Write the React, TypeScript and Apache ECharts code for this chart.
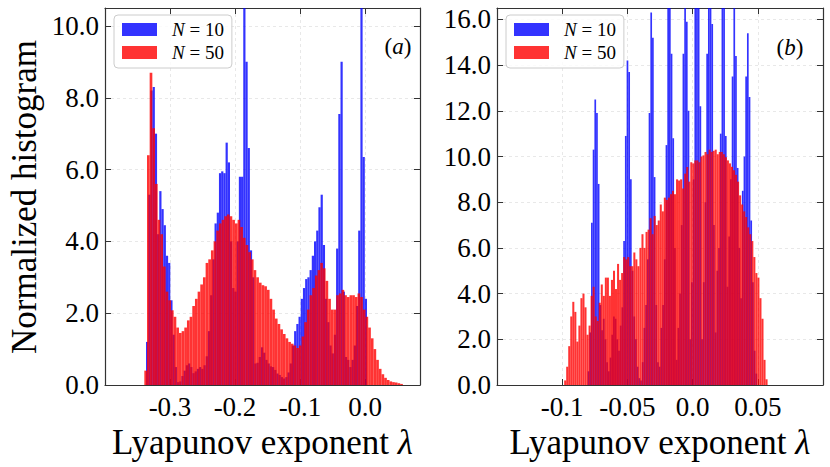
import React, { useEffect, useRef } from "react";
import * as echarts from "echarts";

const FONT = "Liberation Serif";
const BLUE = "rgba(0,0,255,0.8)";
const RED = "rgba(255,0,0,0.8)";
const TEXT = "#000000";

// ---- panel (a) ----
const xTickLabelsA = ["-0.3", "-0.2", "-0.1", "0.0"];
const yTickLabelsA = ["0.0", "2.0", "4.0", "6.0", "8.0", "10.0"];
const binStartA10 = -0.3369;
const binWidthA10 = 0.0034;
const histA10 = [
  1.2, 5.3, 8.2, 8.3, 7.0, 4.2, 5.4, 4.9, 4.45, 3.6,
  3.4, 2.36, 1.4, 0.5, 0.08, 0.1, 0.25, 0.4, 0.55, 0.6,
  0.5, 0.33, 0.38, 0.45, 0.5, 0.45, 0.55, 0.8, 1.5, 2.5,
  3.5, 4.5, 4.8, 5.9, 5.95, 5.9, 6.75, 6.2, 4.0, 2.7,
  2.6, 4.0, 5.8, 5.8, 12.5, 9.0, 6.6, 3.75, 3.0, 0.6,
  0.62, 0.78, 1.05, 0.9, 0.7, 0.6, 0.52, 0.5, 0.42, 0.32,
  0.28, 0.22, 0.18, 0.22, 0.35, 0.6, 1.1, 1.5, 1.7, 1.9,
  2.4, 2.7, 2.95, 3.0, 3.2, 3.6, 4.0, 4.3, 4.95, 5.3,
  3.9, 2.4, 1.75, 1.1, 0.88, 1.4, 3.8, 7.55, 9.0, 2.6,
  0.78, 0.7, 0.5, 0.7, 1.1, 2.2, 4.3, 13.0, 6.35, 2.4,
];
const binStartA50 = -0.3395;
const binWidthA50 = 0.0041;
const histA50 = [
  0.4, 6.4, 8.7, 7.15, 5.6, 4.6, 4.2, 3.3, 2.6, 2.36,
  2.08, 1.9, 1.6, 1.45, 1.5, 1.6, 1.8, 1.9, 2.2, 2.4,
  2.6, 2.8, 3.0, 3.4, 3.5, 3.75, 4.0, 4.3, 4.5, 4.6,
  4.7, 4.75, 4.7, 4.6, 4.5, 4.6, 4.4, 4.1, 3.9, 3.7,
  3.5, 3.2, 3.0, 2.85, 2.78, 2.75, 2.65, 2.4, 2.1, 1.85,
  1.7, 1.55, 1.42, 1.3, 1.2, 1.15, 1.1, 1.03, 1.1, 1.35,
  1.75, 2.1, 2.5, 2.7, 3.05, 3.2, 3.4, 3.25, 2.9, 2.4,
  2.1, 2.1, 2.5, 2.55, 2.65, 2.5, 2.45, 2.5, 2.5, 2.45,
  2.55, 2.45, 2.1, 1.9, 1.6, 1.3, 1.0, 0.7, 0.45, 0.3,
  0.2, 0.14, 0.1, 0.08, 0.07, 0.05, 0.03,
];

// ---- panel (b) ----
const xTickLabelsB = ["-0.1", "-0.05", "0.0", "0.05"];
const yTickLabelsB = ["0.0", "2.0", "4.0", "6.0", "8.0", "10.0", "12.0", "14.0", "16.0"];
const binStartB10 = -0.0805;
const binWidthB10 = 0.0013;
const histB10 = [
  0.6, 2.3, 7.1, 10.3, 12.5, 11.9, 8.8, 3.5, 2.4, 2.9,
  2.0, 1.0, 0.6, 1.2, 2.2, 3.0, 2.9, 2.0, 1.5, 2.6,
  3.4, 6.3, 10.9, 14.2, 13.7, 9.0, 5.0, 3.0, 2.0, 0.8,
  0.3, 0.2, 1.0, 2.5, 3.5, 5.5, 11.9, 16.3, 15.2, 9.1,
  3.5, 1.0, 0.8, 2.5, 3.5, 5.5, 10.5, 18.0, 19.5, 14.5,
  10.8, 6.0, 1.1, 2.5, 4.0, 7.0, 14.5, 19.0, 15.9, 12.0,
  2.0, 4.5, 9.0, 17.5, 20.0, 16.8, 12.2, 2.0, 4.5, 8.0,
  14.5, 19.0, 18.0, 15.8, 7.0, 2.3, 5.0, 6.0, 11.0, 19.5,
  17.0, 10.9, 4.3, 6.5, 9.0, 13.5, 19.0, 14.4, 9.5, 6.0,
  3.8, 8.5, 10.0, 13.5, 15.4, 12.6, 7.2, 4.5, 1.5, 0.5,
];
const binStartB50 = -0.0985;
const binWidthB50 = 0.00156;
const histB50 = [
  0.2, 0.8, 1.7, 3.0, 3.64, 3.2, 1.9, 2.6, 3.8, 4.0,
  3.4, 2.2, 2.6, 3.9, 4.3, 3.0, 2.8, 3.6, 4.4, 3.9,
  4.7, 4.7, 3.9, 4.6, 5.0, 4.2, 5.3, 4.6, 4.9, 5.6,
  5.5, 5.6, 5.2, 5.2, 5.8, 5.5, 5.2, 6.0, 6.6, 6.0,
  6.7, 6.8, 7.3, 6.6, 7.4, 7.0, 7.2, 7.9, 7.6, 8.2,
  8.1, 8.2, 8.35, 8.5, 8.35, 9.0, 8.95, 9.0, 8.6, 9.25,
  9.54, 8.9, 9.75, 9.7, 9.83, 9.83, 9.75, 10.0, 10.05, 10.2,
  10.1, 10.3, 10.2, 10.25, 10.3, 10.1, 10.2, 10.2, 10.1, 9.97,
  9.83, 9.7, 9.55, 9.4, 9.2, 8.9, 8.3, 7.9, 7.6, 7.35,
  6.9, 6.6, 6.3, 5.6, 4.9, 4.7, 3.8, 2.9, 1.1, 0.25,
];

const legendNames = ["N = 10", "N = 50"];

const rt = (size: number, italic = false) => ({
  fontFamily: FONT,
  fontSize: size,
  fontStyle: italic ? "italic" : "normal",
  color: TEXT,
  fill: TEXT,
});

function makeHist(name: string, start: number, width: number, values: number[], color: string, axis: number) {
  return {
    type: "custom",
    name,
    xAxisIndex: axis,
    yAxisIndex: axis,
    clip: true,
    data: values.map((v, i) => [start + i * width, start + (i + 1) * width, v]),
    encode: { x: [0, 1], y: 2 },
    renderItem: (params: any, api: any) => {
      const p0 = api.coord([api.value(0), 0]);
      const p1 = api.coord([api.value(1), api.value(2)]);
      const cs = params.coordSys;
      const top = Math.max(p1[1], cs.y);
      return {
        type: "rect",
        shape: { x: p0[0], y: top, width: p1[0] - p0[0], height: p0[1] - top },
        style: { fill: color },
      };
    },
  };
}

function fmtLabel(list: string[]) {
  return (v: number) => {
    const r = Math.round(v * 1000) / 1000;
    const s = Math.abs(r) < 1e-9 ? "0.0" : String(r).indexOf(".") < 0 ? r.toFixed(1) : String(r);
    return list.indexOf(s) >= 0 ? "{t|" + s + "}" : "";
  };
}

const axisLine = { show: true, onZero: false, lineStyle: { color: "#333333", width: 1.2 } };
const tick = { show: true, inside: true, length: 6, lineStyle: { color: "#333333", width: 1 } };
const split = { show: true, lineStyle: { color: "rgba(0,0,0,0.09)", width: 1, type: [3, 3] } };

function xAxes(grid: number, min: number, max: number, interval: number, labels: string[]) {
  return [
    {
      type: "value", gridIndex: grid, position: "bottom", min, max, interval,
      axisLine, axisTick: tick, splitLine: split,
      axisLabel: {
        fontFamily: FONT, fontSize: 27, color: TEXT, margin: 8,
        showMinLabel: false, showMaxLabel: false, formatter: fmtLabel(labels),
        rich: { t: rt(27) },
      },
      name: "{t|Lyapunov exponent }{i|λ}",
      nameLocation: "middle",
      nameGap: 36,
      nameTextStyle: {
        fontFamily: FONT, fontSize: 35, color: TEXT,
        rich: { t: rt(35), i: rt(35, true) },
      },
    },
    {
      type: "value", gridIndex: grid, position: "top", min, max, interval,
      axisLine, axisTick: tick, splitLine: { show: false }, axisLabel: { show: false },
    },
  ];
}

function yAxes(grid: number, max: number, labels: string[]) {
  return [
    {
      type: "value", gridIndex: grid, position: "left", min: 0, max, interval: 2,
      axisLine, axisTick: tick, splitLine: split,
      axisLabel: {
        fontFamily: FONT, fontSize: 27, color: TEXT, margin: 6,
        showMaxLabel: false, formatter: fmtLabel(labels),
        rich: { t: rt(27) },
      },
    },
    {
      type: "value", gridIndex: grid, position: "right", min: 0, max, interval: 2,
      axisLine, axisTick: tick, splitLine: { show: false }, axisLabel: { show: false },
    },
  ];
}

function legendFor(left: number) {
  return {
    orient: "vertical",
    left,
    top: 15,
    selectedMode: false,
    data: [
      { name: legendNames[0], icon: "rect", itemStyle: { color: BLUE } },
      { name: legendNames[1], icon: "rect", itemStyle: { color: RED } },
    ],
    itemWidth: 35,
    itemHeight: 13,
    itemGap: 4,
    padding: [5, 8, 6, 8],
    backgroundColor: "rgba(255,255,255,0.8)",
    borderColor: "#cccccc",
    borderWidth: 1,
    borderRadius: 4,
    formatter: (n: string) => "{i|N}{t|" + n.slice(1) + "}",
    textStyle: {
      fontFamily: FONT, fontSize: 19, color: TEXT, padding: [0, 0, 0, 10],
      rich: { i: rt(19, true), t: rt(19) },
    },
  };
}

function panelLabel(x: number, y: number, letter: string) {
  return {
    type: "text",
    x,
    y,
    z: 10,
    style: {
      text: "{t|(}{i|" + letter + "}{t|)}",
      fontFamily: FONT,
      fontSize: 23,
      fill: TEXT,
      align: "center",
      verticalAlign: "middle",
      rich: { i: rt(23, true), t: rt(23) },
    },
  };
}

export default function App() {
  const ref = useRef<HTMLDivElement>(null);
  useEffect(() => {
    document.body.style.margin = "0";
    if (!ref.current) return;
    const chart = echarts.init(ref.current, undefined, { renderer: "svg" });
    chart.setOption({
      animation: false,
      backgroundColor: "#ffffff",
      textStyle: { fontFamily: FONT },
      grid: [
        { left: 105, top: 8, width: 315, height: 377 },
        { left: 497, top: 8, width: 326, height: 377 },
      ],
      xAxis: [...xAxes(0, -0.4, 0.0846, 0.1, xTickLabelsA), ...xAxes(1, -0.15, 0.1, 0.05, xTickLabelsB)],
      yAxis: [...yAxes(0, 10.5, yTickLabelsA), ...yAxes(1, 16.5, yTickLabelsB)],
      legend: [legendFor(114), legendFor(506)],
      graphic: [
        {
          type: "text",
          x: 24,
          y: 197,
          rotation: Math.PI / 2,
          style: {
            text: "Normalized histogram",
            fontFamily: FONT,
            fontSize: 35,
            fill: TEXT,
            align: "center",
            verticalAlign: "middle",
          },
        },
        panelLabel(398, 46, "a"),
        panelLabel(790, 47, "b"),
      ],
      series: [
        makeHist(legendNames[0], binStartA10, binWidthA10, histA10, BLUE, 0),
        makeHist(legendNames[1], binStartA50, binWidthA50, histA50, RED, 0),
        makeHist(legendNames[0], binStartB10, binWidthB10, histB10, BLUE, 2),
        makeHist(legendNames[1], binStartB50, binWidthB50, histB50, RED, 2),
      ],
    });
    return () => chart.dispose();
  }, []);
  return <div ref={ref} style={{ width: 830, height: 467 }} />;
}
